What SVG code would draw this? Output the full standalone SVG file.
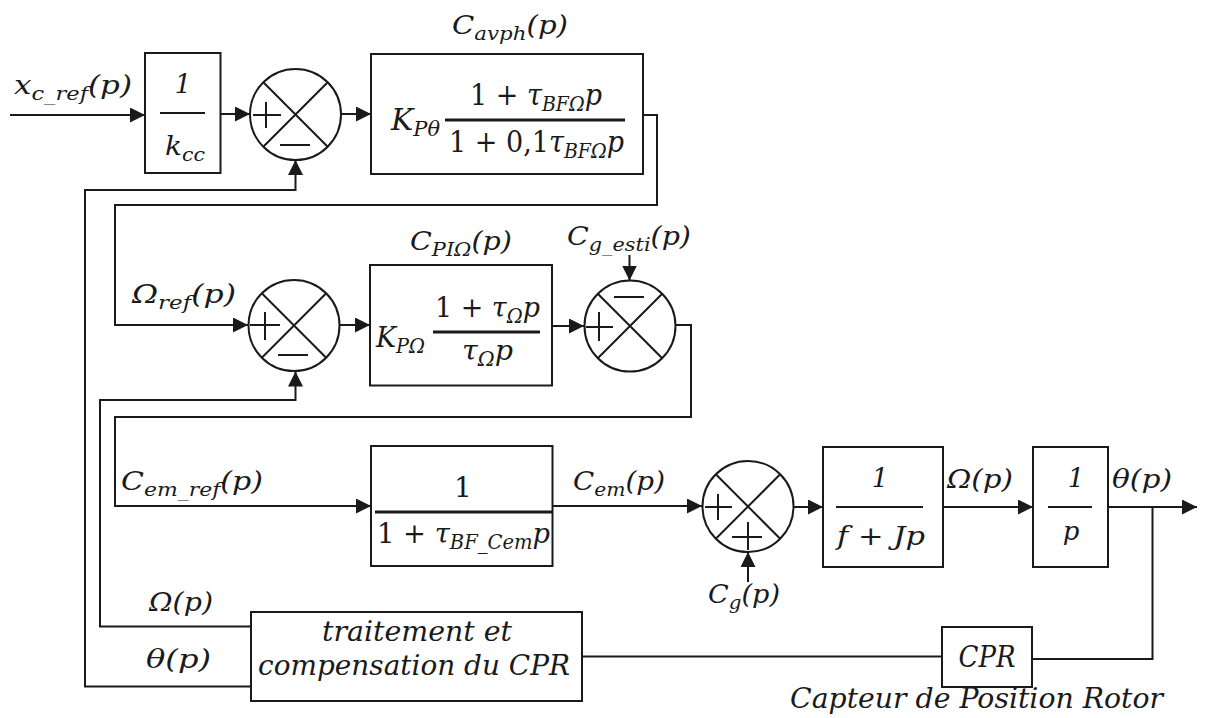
<svg xmlns="http://www.w3.org/2000/svg" width="1205" height="718" viewBox="0 0 1205 718" font-size="26">
<defs>
<marker id="arr" markerWidth="15" markerHeight="15" refX="15" refY="7.5" orient="auto" markerUnits="userSpaceOnUse">
<path d="M0,0 L15,7.5 L0,15 Z" fill="#1a1a1a"/>
</marker>
<style>
.box{fill:#fff;stroke:#1a1a1a;stroke-width:2}
.sum{fill:#fff;stroke:#1a1a1a;stroke-width:2}
.ln{fill:none;stroke:#1a1a1a;stroke-width:2}
.bar{stroke:#1a1a1a;stroke-width:3}
.bar2{stroke:#1a1a1a;stroke-width:2}
.w{stroke:#1a1a1a;stroke-width:2;fill:none}
text{font-family:"DejaVu Serif","Liberation Serif",serif;font-style:italic;fill:#1a1a1a}
.up{font-style:normal}
</style>
</defs>
<rect width="1205" height="718" fill="#fff"/>

<g id="connectors">
<path class="ln" d="M10,115 H145" marker-end="url(#arr)"/>
<path class="ln" d="M221,114 H250" marker-end="url(#arr)"/>
<path class="ln" d="M341,114 H371" marker-end="url(#arr)"/>
<path class="ln" d="M643,115 H657 V205 H115 V325 H248" marker-end="url(#arr)"/>
<path class="ln" d="M340,325 H370" marker-end="url(#arr)"/>
<path class="ln" d="M552,326 H584" marker-end="url(#arr)"/>
<path class="ln" d="M629.5,255 V280.5" marker-end="url(#arr)"/>
<path class="ln" d="M676,325 H691 V417 H115 V506 H371" marker-end="url(#arr)"/>
<path class="ln" d="M552,506 H702" marker-end="url(#arr)"/>
<path class="ln" d="M748,582 V552" marker-end="url(#arr)"/>
<path class="ln" d="M793,507 H823" marker-end="url(#arr)"/>
<path class="ln" d="M943,507 H1033" marker-end="url(#arr)"/>
<path class="ln" d="M1108,507 H1197" marker-end="url(#arr)"/>
<path class="ln" d="M1152.5,507 V659 H1032"/>
<path class="ln" d="M942,656.5 H582"/>
<path class="ln" d="M250,626.5 H100 V400 H295.5 V371.5" marker-end="url(#arr)"/>
<path class="ln" d="M250,686.5 H85 V190 H295.5 V160" marker-end="url(#arr)"/>
</g>

<text x="14" y="94" textLength="118" lengthAdjust="spacingAndGlyphs">x<tspan font-size="19" dy="6">c_ref</tspan><tspan dy="-6">(p)</tspan></text>

<g id="gain_kcc">
<rect class="box" x="145" y="53" width="75.5" height="120"/>
<text x="183" y="93" text-anchor="middle">1</text>
<line class="bar2" x1="160" y1="113" x2="205" y2="113"/>
<text x="165" y="155" textLength="40" lengthAdjust="spacingAndGlyphs">k<tspan font-size="19" dy="6">cc</tspan></text>
</g>

<g id="sum1">
<circle class="sum" cx="295.5" cy="114.5" r="45.5"/>
<path class="w" d="M263.3,82.3 L327.7,146.7 M327.7,82.3 L263.3,146.7"/>
<path class="w" d="M253,115 H281 M266,102 V128"/>
<path class="w" d="M280,145 H310"/>
</g>

<g id="c_avph">
<text x="452" y="34" textLength="116" lengthAdjust="spacingAndGlyphs">C<tspan font-size="19" dy="6">avph</tspan><tspan dy="-6">(p)</tspan></text>
<rect class="box" x="371" y="54" width="272" height="120"/>
<text x="391" y="130" font-size="30" textLength="49" lengthAdjust="spacingAndGlyphs">K<tspan font-size="21" dy="6">Pθ</tspan></text>
<text x="470" y="105" font-size="30" textLength="132" lengthAdjust="spacingAndGlyphs"><tspan class="up">1 + </tspan>τ<tspan font-size="21" dy="6">BFΩ</tspan><tspan dy="-6">p</tspan></text>
<line class="bar" x1="445" y1="120" x2="625" y2="120"/>
<text x="449" y="152" font-size="30" textLength="175" lengthAdjust="spacingAndGlyphs"><tspan class="up">1 + 0,1</tspan>τ<tspan font-size="21" dy="6">BFΩ</tspan><tspan dy="-6">p</tspan></text>
</g>

<text x="132" y="303" textLength="104" lengthAdjust="spacingAndGlyphs">Ω<tspan font-size="19" dy="6">ref</tspan><tspan dy="-6">(p)</tspan></text>

<g id="sum2">
<circle class="sum" cx="294" cy="325.5" r="45.5"/>
<path class="w" d="M261.8,293.3 L326.2,357.7 M326.2,293.3 L261.8,357.7"/>
<path class="w" d="M250,325 H280 M265,312 V340"/>
<path class="w" d="M278,355 H308"/>
</g>

<g id="c_pi">
<text x="410" y="250" textLength="102" lengthAdjust="spacingAndGlyphs">C<tspan font-size="19" dy="6">PIΩ</tspan><tspan dy="-6">(p)</tspan></text>
<rect class="box" x="370" y="265" width="182" height="120.5"/>
<text x="376" y="347" font-size="28" textLength="49" lengthAdjust="spacingAndGlyphs">K<tspan font-size="20" dy="6">PΩ</tspan></text>
<text x="435" y="317" font-size="28" textLength="105" lengthAdjust="spacingAndGlyphs"><tspan class="up">1 + </tspan>τ<tspan font-size="20" dy="6">Ω</tspan><tspan dy="-6">p</tspan></text>
<line class="bar" x1="433" y1="332" x2="540" y2="332"/>
<text x="462" y="360" font-size="28" textLength="51" lengthAdjust="spacingAndGlyphs">τ<tspan font-size="20" dy="6">Ω</tspan><tspan dy="-6">p</tspan></text>
</g>

<g id="sum3">
<text x="567" y="245" textLength="124" lengthAdjust="spacingAndGlyphs">C<tspan font-size="19" dy="6">g_esti</tspan><tspan dy="-6">(p)</tspan></text>
<circle class="sum" cx="630" cy="326" r="45.5"/>
<path class="w" d="M597.8,293.8 L662.2,358.2 M662.2,293.8 L597.8,358.2"/>
<path class="w" d="M586,327 H613 M599,312 V341"/>
<path class="w" d="M614,297 H644"/>
</g>

<text x="121" y="490" textLength="142" lengthAdjust="spacingAndGlyphs">C<tspan font-size="19" dy="6">em_ref</tspan><tspan dy="-6">(p)</tspan></text>

<g id="c_em">
<rect class="box" x="371" y="446" width="181.5" height="120"/>
<text x="463" y="497" font-size="28" class="up" text-anchor="middle">1</text>
<line class="bar" x1="375" y1="512" x2="552" y2="512"/>
<text x="377" y="543" font-size="28" textLength="173" lengthAdjust="spacingAndGlyphs"><tspan class="up">1 + </tspan>τ<tspan font-size="20" dy="6">BF_Cem</tspan><tspan dy="-6">p</tspan></text>
</g>

<text x="573" y="490" textLength="92" lengthAdjust="spacingAndGlyphs">C<tspan font-size="19" dy="6">em</tspan><tspan dy="-6">(p)</tspan></text>

<g id="sum4">
<circle class="sum" cx="748" cy="506.5" r="45.5"/>
<path class="w" d="M715.8,474.3 L780.2,538.7 M780.2,474.3 L715.8,538.7"/>
<path class="w" d="M705,507 H732 M718,494 V520"/>
<path class="w" d="M732,537 H762 M748,522 V550"/>
<text x="708" y="603" textLength="72" lengthAdjust="spacingAndGlyphs">C<tspan font-size="19" dy="6">g</tspan><tspan dy="-6">(p)</tspan></text>
</g>

<g id="mech">
<rect class="box" x="823" y="447" width="120" height="120"/>
<text x="880" y="487" text-anchor="middle">1</text>
<line class="bar2" x1="836" y1="507" x2="923" y2="507"/>
<text x="837" y="545" textLength="88" lengthAdjust="spacingAndGlyphs">f + Jp</text>
</g>

<text x="947" y="488" textLength="66" lengthAdjust="spacingAndGlyphs">Ω(p)</text>

<g id="integ">
<rect class="box" x="1033" y="447" width="75" height="120"/>
<text x="1076" y="487" text-anchor="middle">1</text>
<line class="bar2" x1="1048" y1="507" x2="1092" y2="507"/>
<text x="1071" y="540" text-anchor="middle">p</text>
</g>

<text x="1112" y="488" textLength="60" lengthAdjust="spacingAndGlyphs">θ(p)</text>

<text x="149" y="611" textLength="64" lengthAdjust="spacingAndGlyphs">Ω(p)</text>
<text x="146" y="668" textLength="65" lengthAdjust="spacingAndGlyphs">θ(p)</text>

<g id="traitement">
<rect class="box" x="251" y="612" width="331" height="89"/>
<text x="322" y="641" font-size="27" textLength="190" lengthAdjust="spacingAndGlyphs">traitement et</text>
<text x="258" y="675" font-size="27" textLength="312" lengthAdjust="spacingAndGlyphs">compensation du CPR</text>
</g>

<g id="cpr">
<rect class="box" x="942" y="627" width="90" height="60"/>
<text x="987" y="667" font-size="29" text-anchor="middle" textLength="57" lengthAdjust="spacingAndGlyphs">CPR</text>
<text x="790" y="708" font-size="27" textLength="373" lengthAdjust="spacingAndGlyphs">Capteur de Position Rotor</text>
</g>
</svg>
